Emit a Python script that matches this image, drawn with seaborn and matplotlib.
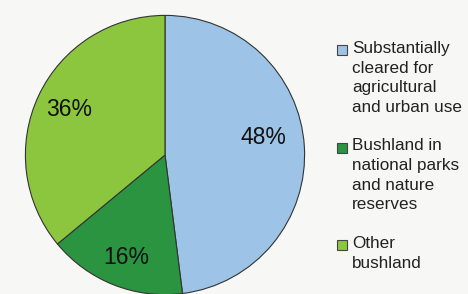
import numpy as np
import pandas as pd
import matplotlib.pyplot as plt
import seaborn as sns
from matplotlib.patches import Patch

# Data
categories = ["Substantially\ncleared for\nagricultural\nand urban use",
              "Bushland in\nnational parks\nand nature\nreserves",
              "Other\nbushland"]
shares = [48, 16, 36]
colours = ["#9DC3E6", "#2A9440", "#8CC63E"]

sns.set_style("white")
plt.rcParams["font.family"] = ["Liberation Sans", "DejaVu Sans"]

fig = plt.figure(figsize=(4.68, 2.94), dpi=100)
fig.patch.set_facecolor("#F7F7F5")

# Pie axes placed so the circle sits on the left
ax = fig.add_axes([24 / 468, -2 / 294, 282 / 468, 282 / 294])
ax.set_facecolor("none")
wedges, texts, pcts = ax.pie(shares,
                             colors=colours,
                             startangle=90,
                             counterclock=False,
                             autopct="%d%%",
                             pctdistance=0.76,
                             wedgeprops={"edgecolor": "#333333", "linewidth": 0.8},
                             textprops={"fontsize": 16.5, "color": "#111111"})
ax.set_xlim(-1.01, 1.01)
ax.set_ylim(-1.01, 1.01)
ax.set_aspect("equal")
ax.axis("off")

# nudge labels a little like the original
x, y = pcts[0].get_position()
pcts[0].set_position((x - 0.05, y + 0.08))
x, y = pcts[1].get_position()
pcts[1].set_position((x, y - 0.03))

# Legend
fs = 12.3
handles = [Patch(facecolor=c, edgecolor="#444444", linewidth=0.8) for c in colours]
leg = fig.legend(handles, categories,
                 loc="upper left",
                 bbox_to_anchor=(330 / 468, 1 - 34 / 294),
                 frameon=False,
                 fontsize=fs,
                 handlelength=0.6,
                 handleheight=0.55,
                 handletextpad=0.3,
                 labelspacing=1.38,
                 borderaxespad=0)
for t in leg.get_texts():
    t.set_color("#222222")
    t.set_linespacing(1.39)

# move each legend square up to sit beside the first line of its label
fig.canvas.draw()
for t, h in zip(leg.get_texts(), leg.legend_handles):
    tb = t.get_window_extent()
    hb = h.get_window_extent()
    nlines = t.get_text().count("\n") + 1
    pitch = tb.height / nlines
    want = tb.y1 - pitch * 0.5
    now = (hb.y0 + hb.y1) / 2
    h.set_y(h.get_y() + (want - now) * 72 / fig.dpi)

fig.savefig("out.png", dpi=100, facecolor=fig.get_facecolor())
